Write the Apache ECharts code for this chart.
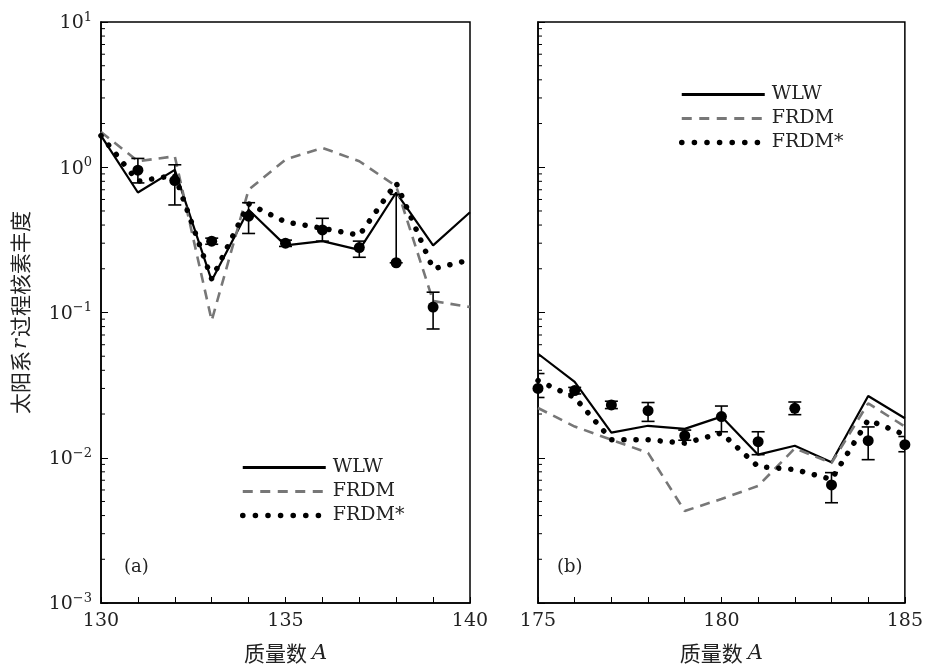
<!DOCTYPE html>
<html><head><meta charset="utf-8">
<script src="https://cdn.jsdelivr.net/npm/echarts@6/dist/echarts.min.js"></script>
<style>html,body{margin:0;padding:0;background:#fff}#c{width:926px;height:669px}</style>
</head><body><div id="c"></div>
<script>
// ---- panel (a) ----
const massA = [130,131,132,133,134,135,136,137,138,139,140];
const wlwA = [1.65,0.67,0.96,0.166,0.51,0.29,0.31,0.27,0.67,0.29,0.49];
const frdmA = [1.75,1.10,1.19,0.088,0.70,1.13,1.36,1.10,0.74,0.12,0.109];
const frdmStarA = [1.65,0.80,0.88,0.17,0.56,0.42,0.38,0.34,0.78,0.20,0.23];
const expMassA = [131,132,133,134,135,136,137,138,139];
const expA = [0.955,0.81,0.31,0.46,0.30,0.37,0.28,0.22,0.109];
const expLoA = [0.78,0.55,0.295,0.35,0.285,0.31,0.24,0.22,0.077];
const expHiA = [1.15,1.04,0.325,0.57,0.315,0.445,0.31,0.65,0.138];
// ---- panel (b) ----
const massB = [175,176,177,178,179,180,181,182,183,184,185];
const wlwB = [0.052,0.0333,0.0149,0.0166,0.0158,0.0192,0.0105,0.0121,0.0093,0.0266,0.0187];
const frdmB = [0.022,0.0164,0.0133,0.0108,0.0043,0.0052,0.0064,0.0116,0.0092,0.0237,0.0164];
const frdmStarB = [0.034,0.026,0.0133,0.0133,0.0126,0.0148,0.0087,0.0083,0.0071,0.0182,0.0144];
const expMassB = [175,176,177,178,179,180,181,182,183,184,185];
const expB = [0.030,0.029,0.0231,0.0211,0.0142,0.0192,0.0129,0.0219,0.0065,0.0131,0.0123];
const expLoB = [0.026,0.0275,0.0218,0.0178,0.0132,0.0151,0.0105,0.0198,0.0049,0.0097,0.011];
const expHiB = [0.038,0.0305,0.0245,0.024,0.0155,0.0227,0.0151,0.0242,0.0079,0.0163,0.014];
// labels
const seriesNames = ['WLW','FRDM','FRDM*'];
const xLabel = '质量数';
const yLabelPre = '太阳系', yLabelVar = 'r', yLabelPost = '过程核素丰度';

const serif = '"DejaVu Serif","Liberation Serif",serif';
const cjk = '"Noto Sans CJK SC",sans-serif';

// minor log ticks (2..9 x 10^k) – axis decoration only
const minorVals = [];
for (let k = -3; k < 1; k++) for (let m = 2; m <= 9; m++) minorVals.push(+(m * Math.pow(10, k)).toPrecision(3));

function zip(xs, ys){ return xs.map((x,i)=>[x, ys[i]]); }

const styles = [
  {color:'#000', width:2.2, type:'solid'},
  {color:'#777', width:2.6, type:[10,7]},
  {color:'#000', width:5.5, type:[0.1,12], cap:'round'}
];
const legendStyles = [
  {color:'#000', width:3, type:'solid'},
  {color:'#777', width:3, type:[10,7.5]},
  {color:'#000', width:5.5, type:[0.1,12.5], cap:'round'}
];

const ch = echarts.init(document.getElementById('c'));

function yAxisCfg(idx, showLabel){
  return {
    type:'log', logBase:10, min:0.001, max:10, gridIndex:idx,
    axisLine:{show:true, lineStyle:{color:'#000', width:1.5}},
    axisTick:{show:true, inside:true, length:7, lineStyle:{color:'#000', width:1}},
    splitLine:{show:false},
    axisLabel:{show:showLabel, margin:9, formatter:function(v){
      const e = Math.round(Math.log10(v));
      return '{b|10}{s|' + (e < 0 ? '−' + (-e) : e) + '}';
    }, rich:{
      b:{fontFamily:serif, fontSize:19, color:'#222', lineHeight:22, verticalAlign:'bottom'},
      s:{fontFamily:serif, fontSize:13, color:'#222', lineHeight:13, verticalAlign:'top'}
    }},
    name: showLabel ? '{c|' + yLabelPre + '}{i|' + yLabelVar + '}{c|' + yLabelPost + '}' : '',
    nameLocation:'middle', nameRotate:90, nameGap:70,
    nameTextStyle:{rich:{
      c:{fontFamily:cjk, fontSize:21, color:'#222'},
      i:{fontFamily:serif, fontStyle:'italic', fontSize:21, color:'#222', padding:[0,2,0,2]}
    }}
  };
}
function xAxisCfg(idx, min, max){
  return {
    type:'value', min:min, max:max, interval:1, gridIndex:idx,
    axisLine:{show:true, onZero:false, lineStyle:{color:'#000', width:1.5}},
    axisTick:{show:true, inside:true, length:6, lineStyle:{color:'#000', width:1}},
    splitLine:{show:false},
    axisLabel:{margin:9, fontFamily:serif, fontSize:19, color:'#222',
      formatter:function(v){ return v % 5 === 0 ? String(v) : ''; }},
    name:'{c|' + xLabel + '}{i|A}', nameLocation:'middle', nameGap:40,
    nameTextStyle:{rich:{
      c:{fontFamily:cjk, fontSize:21, color:'#222'},
      i:{fontFamily:serif, fontStyle:'italic', fontSize:21, color:'#222', padding:[0,0,0,5]}
    }}
  };
}

function lineSeries(name, xs, ys, idx, kind){
  return {name:name, type:'line', xAxisIndex:idx, yAxisIndex:idx, data:zip(xs, ys),
    showSymbol:false, symbol:'none', clip:true, z:3, silent:true,
    lineStyle:Object.assign({}, styles[kind]), itemStyle:{color:styles[kind].color}};
}
function errSeries(xs, lo, hi, idx){
  return {type:'custom', xAxisIndex:idx, yAxisIndex:idx, clip:true, z:4, silent:true,
    data: xs.map((x,i)=>[x, lo[i], hi[i]]),
    encode:{x:0, y:[1,2]},
    renderItem:function(params, api){
      const a = api.coord([api.value(0), api.value(1)]);
      const b = api.coord([api.value(0), api.value(2)]);
      const w = 6.5;
      return {type:'group', children:[
        {type:'line', shape:{x1:a[0],y1:a[1],x2:b[0],y2:b[1]}, style:{stroke:'#000', lineWidth:1.6}},
        {type:'line', shape:{x1:a[0]-w,y1:a[1],x2:a[0]+w,y2:a[1]}, style:{stroke:'#000', lineWidth:1.6}},
        {type:'line', shape:{x1:b[0]-w,y1:b[1],x2:b[0]+w,y2:b[1]}, style:{stroke:'#000', lineWidth:1.6}}
      ]};
    }};
}
function minorSeries(idx, xmin){
  return {type:'custom', xAxisIndex:idx, yAxisIndex:idx, silent:true, z:5,
    data: minorVals.map(v=>[xmin, v]), encode:{x:0, y:1},
    renderItem:function(params, api){
      const p = api.coord([api.value(0), api.value(1)]);
      return {type:'line', shape:{x1:p[0], y1:p[1], x2:p[0]+4, y2:p[1]}, style:{stroke:'#000', lineWidth:1}};
    }};
}
function scatterSeries(xs, ys, idx){
  return {type:'scatter', xAxisIndex:idx, yAxisIndex:idx, data:zip(xs, ys), symbol:'circle',
    symbolSize:11, itemStyle:{color:'#000', opacity:1}, clip:true, z:6, silent:true};
}

function legendCfg(left, top, w){
  return {orient:'vertical', left:left, top:top, itemWidth:w, itemHeight:14, itemGap:5,
    selectedMode:false, itemStyle:{opacity:0},
    textStyle:{fontFamily:serif, fontSize:19, color:'#222', padding:[0,0,0,2]},
    data: seriesNames.map((n,i)=>({name:n, itemStyle:{opacity:0}, lineStyle:Object.assign({}, legendStyles[i])}))};
}

ch.setOption({
  animation:false,
  backgroundColor:'#fff',
  grid:[
    {left:101, top:22, width:369, height:583, show:true, borderColor:'#000', borderWidth:1.5},
    {left:538, top:22, width:369, height:583, show:true, borderColor:'#000', borderWidth:1.5}
  ],
  xAxis:[xAxisCfg(0,130,140), xAxisCfg(1,175,185)],
  yAxis:[yAxisCfg(0,true), yAxisCfg(1,false)],
  legend:[ legendCfg(235, 453, 83), legendCfg(674, 80, 83) ],
  graphic:[
    {type:'text', left:124, top:558, style:{text:'(a)', font:'18px ' + serif, fill:'#222'}},
    {type:'text', left:557, top:558, style:{text:'(b)', font:'18px ' + serif, fill:'#222'}}
  ],
  series:[
    lineSeries('WLW', massA, wlwA, 0, 0),
    lineSeries('FRDM', massA, frdmA, 0, 1),
    lineSeries('FRDM*', massA, frdmStarA, 0, 2),
    errSeries(expMassA, expLoA, expHiA, 0),
    scatterSeries(expMassA, expA, 0),
    minorSeries(0, 130),
    lineSeries('WLW', massB, wlwB, 1, 0),
    lineSeries('FRDM', massB, frdmB, 1, 1),
    lineSeries('FRDM*', massB, frdmStarB, 1, 2),
    errSeries(expMassB, expLoB, expHiB, 1),
    scatterSeries(expMassB, expB, 1),
    minorSeries(1, 175)
  ]
});
</script></body></html>
